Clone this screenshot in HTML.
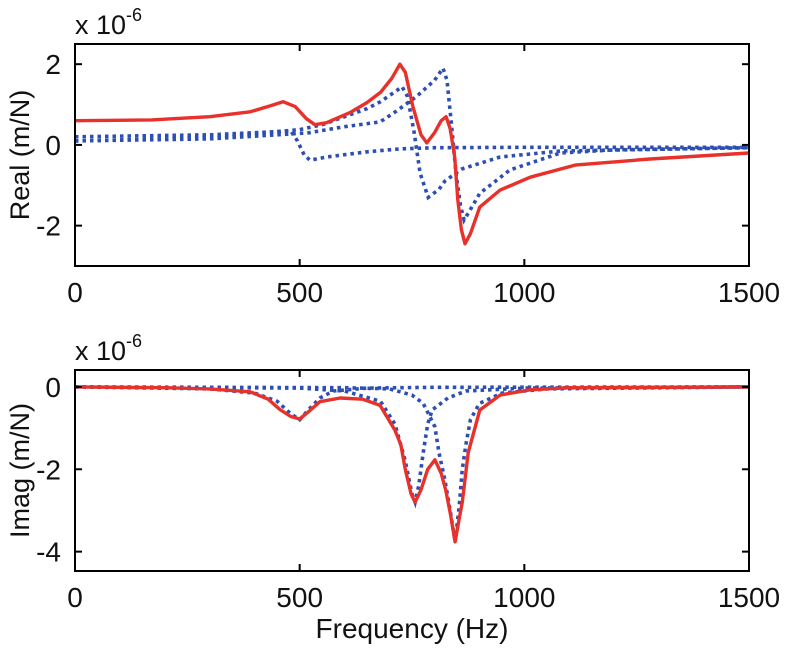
<!DOCTYPE html>
<html><head><meta charset="utf-8"><style>
html,body{margin:0;padding:0;background:#fff;}
svg{display:block;font-family:"Liberation Sans",Arial,sans-serif;}
</style></head><body>
<svg id="fig" width="785" height="648" viewBox="0 0 785 648"></svg>
<script>
// ---- data (values in 1e-6 m/N, frequency in Hz) ----
const xTicks = [0, 500, 1000, 1500];
const realTicks = [-2, 0, 2];
const imagTicks = [-4, -2, 0];
const realMeasured = [[0,0.6],[170,0.62],[300,0.7],[390,0.82],[435,0.97],[463,1.07],[490,0.95],[515,0.65],[534,0.5],[560,0.55],[612,0.8],[650,1.05],[680,1.3],[705,1.65],[723,2.0],[735,1.8],[752,0.95],[770,0.25],[783,0.05],[800,0.3],[815,0.6],[826,0.7],[835,0.4],[845,-0.3],[852,-1.36],[860,-2.1],[868,-2.45],[880,-2.2],[901,-1.54],[946,-1.12],[1013,-0.8],[1113,-0.5],[1280,-0.35],[1500,-0.2]];
const realMode1 = [[0,0.1],[200,0.15],[350,0.22],[450,0.33],[480,0.35],[495,0.1],[510,-0.25],[523,-0.38],[560,-0.3],[650,-0.17],[723,-0.1],[800,-0.07],[1000,-0.06],[1500,-0.06]];
const realMode2 = [[0,0.2],[300,0.25],[450,0.33],[500,0.38],[550,0.5],[600,0.7],[650,0.9],[680,1.07],[710,1.3],[728,1.44],[740,1.2],[755,0.3],[768,-0.7],[786,-1.3],[810,-1.1],[823,-0.9],[860,-0.6],[946,-0.3],[1080,-0.15],[1500,-0.07]];
const realMode3 = [[0,0.1],[300,0.15],[450,0.25],[520,0.3],[600,0.45],[679,0.57],[713,0.82],[760,1.2],[800,1.6],[819,1.9],[828,1.6],[838,0.5],[848,-0.7],[858,-1.5],[866,-1.86],[880,-1.6],[901,-1.2],[968,-0.62],[1080,-0.2],[1200,-0.12],[1500,-0.07]];
const imagMeasured = [[0,0],[200,-0.02],[300,-0.05],[390,-0.12],[430,-0.3],[456,-0.55],[480,-0.72],[500,-0.78],[520,-0.6],[545,-0.36],[590,-0.27],[640,-0.3],[679,-0.45],[712,-1.05],[725,-1.4],[735,-2.0],[748,-2.6],[757,-2.8],[770,-2.5],[785,-2.0],[801,-1.77],[815,-2.1],[825,-2.5],[835,-3.06],[846,-3.76],[855,-3.2],[862,-2.8],[875,-1.6],[901,-0.56],[946,-0.2],[1013,-0.07],[1100,-0.02],[1500,0]];
const imagMode1 = [[0,0],[300,-0.05],[400,-0.15],[450,-0.35],[480,-0.65],[500,-0.8],[520,-0.55],[545,-0.27],[575,-0.1],[650,-0.03],[800,-0.01],[1500,0]];
const imagMode2 = [[0,0],[500,-0.03],[600,-0.1],[680,-0.35],[712,-0.9],[735,-1.8],[750,-2.6],[757,-2.8],[765,-2.4],[775,-1.6],[785,-0.9],[795,-0.56],[830,-0.27],[870,-0.1],[1000,-0.03],[1500,0]];
const imagMode3 = [[0,0],[600,-0.02],[700,-0.05],[750,-0.2],[775,-0.4],[801,-0.97],[810,-1.6],[823,-2.25],[835,-3.0],[846,-3.76],[855,-2.9],[862,-2.0],[870,-1.4],[880,-0.8],[900,-0.4],[950,-0.15],[1050,-0.05],[1500,0]];

const NS = "http://www.w3.org/2000/svg";
const svg = document.getElementById('fig');
function mk(tag, attrs, parent){const e=document.createElementNS(NS,tag);for(const k in attrs)e.setAttribute(k,attrs[k]);(parent||svg).appendChild(e);return e;}

function panel(cfg){
  const g = mk('g',{});
  
  
  const L=75,R=749,T=cfg.top,B=cfg.bottom;
  const xs = f => L + (f-0)/(1500-0)*(R-L);
  const ys = v => T + (cfg.ymax - v)/(cfg.ymax - cfg.ymin)*(B-T);
  const cid='clip'+cfg.name;
  const cp=mk('clipPath',{id:cid},g); mk('rect',{x:L,y:T,width:R-L,height:B-T},cp);
  const series=[[cfg.m1,'blue'],[cfg.m2,'blue'],[cfg.m3,'blue'],[cfg.meas,'red']];
  const names=['mode1-line','mode2-line','mode3-line','measured-line'];
  series.forEach((s,i)=>{
    const pts=s[0].map(p=>xs(p[0]).toFixed(1)+','+ys(p[1]).toFixed(1)).join(' ');
    const pl = s[1]==='red'
      ? mk('polyline',{points:pts,fill:'none',stroke:'#e8312a','stroke-width':3.4,'stroke-linejoin':'round','clip-path':'url(#'+cid+')'},g)
      : mk('polyline',{points:pts,fill:'none',stroke:'#2d4fb4','stroke-width':3.6,'stroke-dasharray':'3.5 4','clip-path':'url(#'+cid+')'},g);
    
    
  });
  const box=mk('rect',{x:L,y:T,width:R-L,height:B-T,fill:'none',stroke:'#000','stroke-width':2},g);
  
  
  xTicks.forEach(t=>{
    const x=xs(t);
    mk('line',{x1:x,y1:B,x2:x,y2:B-7,stroke:'#000','stroke-width':2},g);
    mk('line',{x1:x,y1:T,x2:x,y2:T+7,stroke:'#000','stroke-width':2},g);
    const tx=mk('text',{x:x,y:B+36,'font-size':28,'text-anchor':'middle',fill:'#111'},g);
    tx.textContent=t;
    
    
  });
  cfg.yt.forEach(t=>{
    const y=ys(t);
    mk('line',{x1:L,y1:y,x2:L+7,y2:y,stroke:'#000','stroke-width':2},g);
    mk('line',{x1:R,y1:y,x2:R-7,y2:y,stroke:'#000','stroke-width':2},g);
    const tx=mk('text',{x:L-14,y:y+10,'font-size':28,'text-anchor':'end',fill:'#111'},g);
    tx.textContent=t;
    
    
  });
  const ex=mk('text',{x:L,y:T-10,'font-size':27,fill:'#111'},g);
  ex.innerHTML='x 10<tspan dy="-13" font-size="18">-6</tspan>';
  
  
  const yl=mk('text',{x:0,y:0,'font-size':27,'text-anchor':'middle',fill:'#111',transform:'translate(29,'+((T+B)/2)+') rotate(-90)'},g);
  yl.textContent=cfg.ylabel;
  
  
}
panel({name:'real-panel',top:44,bottom:266,ymin:-3,ymax:2.5,yt:realTicks,ylabel:'Real (m/N)',meas:realMeasured,m1:realMode1,m2:realMode2,m3:realMode3});
panel({name:'imag-panel',top:370,bottom:571,ymin:-4.47,ymax:0.41,yt:imagTicks,ylabel:'Imag (m/N)',meas:imagMeasured,m1:imagMode1,m2:imagMode2,m3:imagMode3});
const xl=mk('text',{x:412,y:638,'font-size':28,'text-anchor':'middle',fill:'#111'});
xl.textContent='Frequency (Hz)';


</script>
</body></html>
